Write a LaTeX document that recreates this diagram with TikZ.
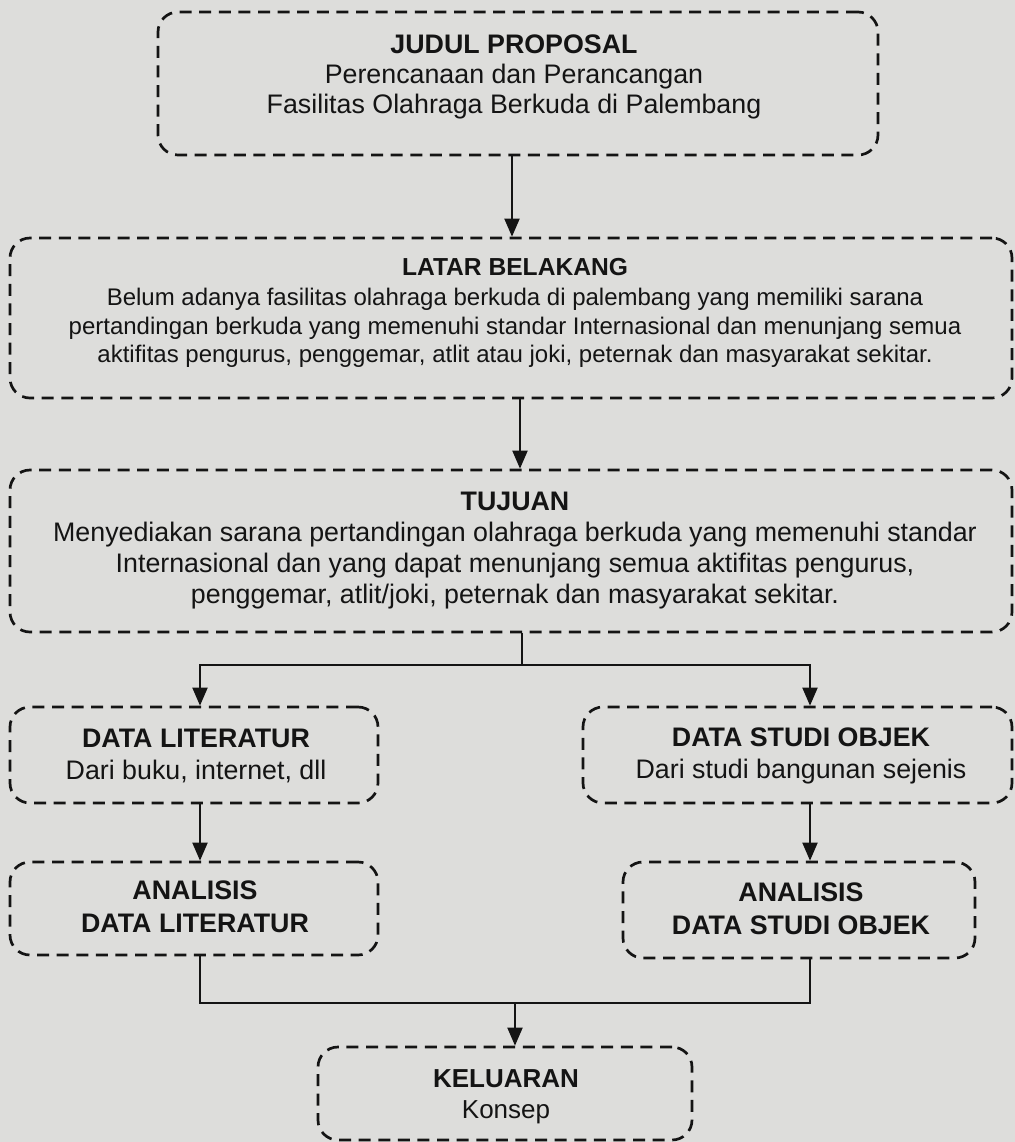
\documentclass[tikz,border=0pt]{standalone}
\usepackage{fontspec}
\setmainfont{Liberation Sans}
\usetikzlibrary{arrows.meta}
\definecolor{paper}{RGB}{221,221,219}
\definecolor{ink}{RGB}{20,20,20}
\begin{document}
\begin{tikzpicture}[x=0.5pt,y=-0.5pt,
  box/.style={draw=ink, line width=1.35pt, dash pattern=on 6pt off 3.8pt, rounded corners=10pt,
    inner sep=0pt},
  txt/.style={inner sep=0pt, align=center, text=ink, font=\fontsize{13.4}{15.5}\selectfont},
  arr/.style={draw=ink, line width=1pt, -{Triangle[length=9pt,width=7.5pt]}},
  ln/.style={draw=ink, line width=1pt}]
\useasboundingbox (0,0) rectangle (1015,1142);
\fill[paper] (0,0) rectangle (1015,1142);
% boxes
\node[box, minimum width=360pt, minimum height=71.5pt] (judul) at (518,83.5) {};
\node[box, minimum width=501pt, minimum height=80pt] (latar) at (511,318) {};
\node[box, minimum width=501pt, minimum height=81pt] (tujuan) at (511,551) {};
\node[box, minimum width=184pt, minimum height=48pt] (lit) at (194,755) {};
\node[box, minimum width=214.5pt, minimum height=48pt] (studi) at (797.5,755) {};
\node[box, minimum width=184pt, minimum height=46.5pt] (alit) at (194,908.5) {};
\node[box, minimum width=176pt, minimum height=48pt] (astudi) at (799,910) {};
\node[box, minimum width=187pt, minimum height=46.5pt] (kel) at (505,1093.5) {};
% texts
\node[txt, font=\fontsize{13.4}{15}\selectfont] (tjudul) at (514,77)
  {\textbf{JUDUL PROPOSAL}\\Perencanaan dan Perancangan\\Fasilitas Olahraga Berkuda di Palembang};
\node[txt, font=\fontsize{12}{14.2}\selectfont] (tlatar) at (515,313)
  {\textbf{\fontsize{12.3}{14.2}\selectfont LATAR BELAKANG}\\[1pt]Belum adanya fasilitas olahraga berkuda di palembang yang memiliki sarana\\pertandingan berkuda yang memenuhi standar Internasional dan menunjang semua\\aktifitas pengurus, penggemar, atlit atau joki, peternak dan masyarakat sekitar.};
\node[txt] (ttujuan) at (515,551)
  {\textbf{TUJUAN}\\Menyediakan sarana pertandingan olahraga berkuda yang memenuhi standar\\Internasional dan yang dapat menunjang semua aktifitas pengurus,\\penggemar, atlit/joki, peternak dan masyarakat sekitar.};
\node[txt, font=\fontsize{13.4}{16}\selectfont] (tlit) at (196,756)
  {\textbf{DATA LITERATUR}\\Dari buku, internet, dll};
\node[txt, font=\fontsize{13.4}{16}\selectfont] (tstudi) at (801,756)
  {\textbf{DATA STUDI OBJEK}\\Dari studi bangunan sejenis};
\node[txt, font=\fontsize{13.4}{16.5}\selectfont\bfseries] (talit) at (195,907)
  {ANALISIS\\DATA LITERATUR};
\node[txt, font=\fontsize{13.4}{16.5}\selectfont\bfseries] (tastudi) at (801,909)
  {ANALISIS\\DATA STUDI OBJEK};
\node[txt, font=\fontsize{13}{15.5}\selectfont] (tkel) at (506,1097)
  {\textbf{KELUARAN}\\Konsep};
% connectors
\coordinate (x1) at (512,0);
\coordinate (x2) at (520,0);
\coordinate (j1) at (522,665);
\coordinate (xa) at (200,0);
\coordinate (xb) at (810,0);
\coordinate (j2) at (515,1003);
\draw[arr] (judul.south -| x1) -- (latar.north -| x1);
\draw[arr] (latar.south -| x2) -- (tujuan.north -| x2);
\draw[ln] (tujuan.south -| j1) -- (j1);
\draw[arr] (j1) -| (lit.north -| xa);
\draw[arr] (j1) -| (studi.north -| xb);
\draw[arr] (lit.south -| xa) -- (alit.north -| xa);
\draw[arr] (studi.south -| xb) -- (astudi.north -| xb);
\draw[ln] (alit.south -| xa) |- (j2);
\draw[ln] (astudi.south -| xb) |- (j2);
\draw[arr] (j2) -- (kel.north -| j2);
\end{tikzpicture}
\end{document}
